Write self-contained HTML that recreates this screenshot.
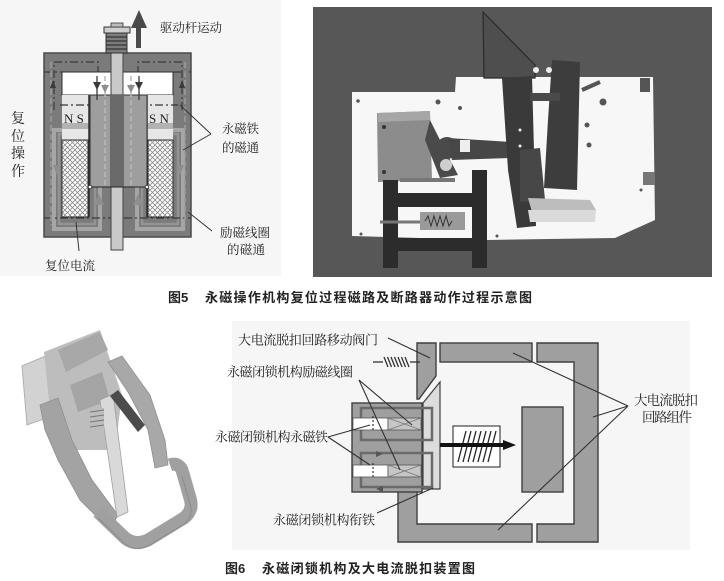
<!DOCTYPE html>
<html><head><meta charset="utf-8"><style>
html,body{margin:0;padding:0;background:#fff;}
svg{display:block;}
.ser{font-family:"Liberation Serif","Noto Serif CJK SC",serif;fill:#222;}
.cap{font-family:"Liberation Sans","Noto Sans CJK SC",sans-serif;fill:#222;font-weight:700;}
</style></head><body>
<svg width="724" height="581" viewBox="0 0 724 581" xmlns="http://www.w3.org/2000/svg">
<defs>
<pattern id="xh" width="5" height="5" patternUnits="userSpaceOnUse">
<rect width="5" height="5" fill="#fff"/>
<path d="M0,0L5,5M5,0L0,5" stroke="#8a8a8a" stroke-width="0.8"/>
</pattern>
</defs>
<rect width="724" height="581" fill="#fff"/>

<!-- ========== TOP LEFT DIAGRAM ========== -->
<rect x="0" y="0" width="281" height="276" fill="#f6f6f6"/>
<!-- body -->
<rect x="44" y="53" width="147" height="184" fill="#7b7b7b" stroke="#4a4a4a" stroke-width="1.5"/>
<!-- coil flux loops -->
<g fill="none" stroke="#a6a6a6" stroke-width="4">
<rect x="54" y="130" width="46" height="99"/>
<rect x="137" y="130" width="46" height="99"/>
</g>
<g fill="none" stroke="#939393" stroke-width="2.5">
<rect x="59" y="134" width="36" height="90"/>
<rect x="142" y="134" width="36" height="90"/>
</g>
<!-- top yoke dash-dot flux -->
<g fill="none" stroke="#3a3a3a" stroke-width="1.2" stroke-dasharray="8,3,2,3">
<polyline points="54,110 54,62 98,62 98,80"/>
<polyline points="182,110 182,62 138,62 138,80"/>
<line x1="44" y1="72" x2="62" y2="72"/>
<line x1="173" y1="72" x2="191" y2="72"/>
<line x1="44" y1="218" x2="191" y2="218"/>
</g>
<g fill="none" stroke="#9c9c9c" stroke-width="1.5" stroke-dasharray="6,3">
<line x1="51" y1="62" x2="51" y2="225"/>
<line x1="185" y1="62" x2="185" y2="225"/>
</g>
<!-- top cavity -->
<rect x="62" y="72" width="111" height="23" fill="#fff" stroke="#2e2e2e" stroke-width="1"/>
<!-- magnets -->
<rect x="62" y="95" width="28" height="45" fill="#e6e6e6"/>
<rect x="147" y="95" width="26" height="45" fill="#e6e6e6"/>
<rect x="62" y="123" width="28" height="6" fill="#b2b2b2"/>
<rect x="147" y="123" width="26" height="6" fill="#b2b2b2"/>
<g stroke="#333" stroke-width="1.3" stroke-dasharray="8,3,2,3">
<line x1="60" y1="105" x2="98" y2="105"/>
<line x1="139" y1="105" x2="178" y2="105"/>
</g>
<text x="64" y="123" class="ser" font-size="13">N S</text>
<text x="149" y="123" class="ser" font-size="13">S N</text>
<!-- coils -->
<rect x="62" y="140" width="26" height="77" fill="url(#xh)" stroke="#2e2e2e" stroke-width="1"/>
<rect x="148" y="140" width="25" height="77" fill="url(#xh)" stroke="#2e2e2e" stroke-width="1"/>
<line x1="89" y1="95" x2="89" y2="217" stroke="#2e2e2e" stroke-width="1.5"/>
<line x1="147" y1="95" x2="147" y2="217" stroke="#2e2e2e" stroke-width="1.5"/>
<!-- shaft -->
<rect x="111" y="53" width="12" height="197" fill="#c9c9c9" stroke="#444" stroke-width="1"/>
<!-- plunger -->
<rect x="90" y="95" width="57" height="92" fill="#9e9e9e" stroke="#333" stroke-width="1"/>
<rect x="110" y="95" width="14" height="92" fill="#6a6a6a"/>
<line x1="90" y1="187" x2="147" y2="187" stroke="#222" stroke-width="1"/>
<circle cx="90" cy="187" r="1.8" fill="#fff" stroke="#222" stroke-width="0.8"/>
<circle cx="147" cy="187" r="1.8" fill="#fff" stroke="#222" stroke-width="0.8"/>
<!-- vertical light dashed flux in plunger -->
<g stroke="#b8b8b8" stroke-width="1.5" stroke-dasharray="5,3">
<line x1="105" y1="76" x2="105" y2="185"/>
<line x1="131" y1="76" x2="131" y2="185"/>
</g>
<g stroke="#3a3a3a" stroke-width="1.3">
<line x1="97" y1="76" x2="97" y2="100"/>
<line x1="139" y1="76" x2="139" y2="100"/>
</g>
<g fill="#3a3a3a">
<polygon points="93,82 101,82 97,90"/>
<polygon points="135,82 143,82 139,90"/>
<polygon points="50,88 56,88 53,80"/>
<polygon points="179,88 185,88 182,80"/>
</g>
<g fill="#8e8e8e">
<polygon points="101,85 109,85 105,93"/>
<polygon points="127,85 135,85 131,93"/>
<polygon points="53,165 61,165 57,175"/>
<polygon points="176,165 184,165 180,175"/>
<polygon points="94,205 104,205 99,194"/>
<polygon points="133,205 143,205 138,194"/>
</g>
<!-- thread & cap -->
<rect x="106" y="33" width="21" height="20" fill="#7c7c7c" stroke="#333" stroke-width="1"/>
<g stroke="#333" stroke-width="1.2">
<line x1="106" y1="37" x2="127" y2="37"/><line x1="106" y1="41" x2="127" y2="41"/>
<line x1="106" y1="45" x2="127" y2="45"/><line x1="106" y1="49" x2="127" y2="49"/>
</g>
<rect x="104" y="27" width="26" height="6" fill="#cfcfcf" stroke="#333" stroke-width="1"/>
<rect x="111" y="23" width="12" height="4" fill="#bdbdbd" stroke="#333" stroke-width="0.8"/>
<!-- up arrow -->
<polygon points="136,48 136,28 131,28 139,10 147,28 141,28 141,48" fill="#4a4a4a"/>
<!-- labels -->
<text x="160" y="32" class="ser" font-size="12.5" textLength="62">驱动杆运动</text>
<text x="11" y="123" class="ser" font-size="14">复</text>
<text x="11" y="141" class="ser" font-size="14">位</text>
<text x="11" y="158" class="ser" font-size="14">操</text>
<text x="11" y="176" class="ser" font-size="14">作</text>
<text x="222" y="133" class="ser" font-size="12.5" textLength="37">永磁铁</text>
<text x="222" y="152" class="ser" font-size="12.5" textLength="37">的磁通</text>
<text x="220" y="237" class="ser" font-size="12.5" textLength="50">励磁线圈</text>
<text x="227" y="254" class="ser" font-size="12.5" textLength="38">的磁通</text>
<text x="45" y="270" class="ser" font-size="12.5" textLength="50">复位电流</text>
<g stroke="#333" stroke-width="1">
<line x1="180" y1="105" x2="211" y2="134"/>
<line x1="183" y1="150" x2="211" y2="134"/>
<line x1="188" y1="212" x2="212" y2="231"/>
<line x1="76" y1="222" x2="79" y2="251"/>
</g>

<!-- ========== TOP RIGHT PHOTO ========== -->
<rect x="313" y="7" width="399" height="270" fill="#575757"/>
<polygon points="352,92 455,92 456,77 653,77 655,220 615,238 487,240 352,236" fill="#f7f7f7"/>
<!-- details on plate -->
<g fill="#555">
<circle cx="358" cy="101" r="1.8"/><circle cx="438" cy="102" r="2.5"/><circle cx="460" cy="108" r="2"/>
<circle cx="603" cy="102" r="3.5"/><circle cx="587" cy="125" r="2.5"/><circle cx="589" cy="145" r="2.5"/>
<circle cx="641" cy="190" r="1.5"/><circle cx="361" cy="234" r="1.5"/><circle cx="497" cy="236" r="1.5"/>
</g>
<polygon points="640,78 650,78 650,92 640,92" fill="#555"/>
<polygon points="643,172 655,172 655,185 643,185" fill="#777"/>
<!-- left gray box -->
<polygon points="377,113 430,111 432,180 378,182" fill="#8c8c8c"/>
<polygon points="378,113 430,111 430,120 378,122" fill="#a6a6a6"/>
<circle cx="384" cy="127" r="2" fill="#333"/><circle cx="384" cy="172" r="2" fill="#333"/>
<polygon points="430,120 445,150 458,175 440,178 425,140" fill="#4a4a4a"/>
<circle cx="447" cy="148" r="11" fill="#4a4a4a"/>
<polygon points="448,138 510,142 510,158 452,160" fill="#474747"/>
<rect x="460" y="140" width="10" height="12" fill="#eee"/>
<circle cx="446" cy="165" r="6" fill="#cfcfcf"/>
<rect x="400" y="178" width="55" height="4" fill="#777"/>
<!-- black frame -->
<g fill="#2c2c2c">
<rect x="383" y="180" width="15" height="88"/>
<rect x="472" y="170" width="15" height="98"/>
<rect x="393" y="193" width="84" height="14"/>
<rect x="393" y="238" width="84" height="13"/>
</g>
<rect x="420" y="212" width="45" height="18" fill="#9a9a9a"/>
<path d="M425,221 l3,-5 l3,10 l3,-10 l3,10 l3,-10 l3,10 l3,-10 l3,10 l3,-5" stroke="#333" fill="none" stroke-width="1"/>
<line x1="380" y1="222" x2="420" y2="222" stroke="#777" stroke-width="3"/>
<!-- triangle plate -->
<polygon points="483,12 535,65 535,78 484,78" fill="#4e4e4e" stroke="#2a2a2a" stroke-width="1.2"/>
<!-- tall bars -->
<polygon points="502,78 532,76 536,226 517,228 508,170" fill="#3a3a3a"/>
<polygon points="520,150 540,148 545,200 520,202" fill="#474747"/>
<polygon points="552,60 580,62 577,190 544,188 548,120" fill="#3d3d3d"/>
<rect x="530" y="93" width="30" height="8" fill="#4a4a4a"/>
<line x1="582" y1="90" x2="600" y2="82" stroke="#555" stroke-width="4"/>
<circle cx="536" cy="70" r="3" fill="#eee"/><circle cx="549" cy="70" r="3" fill="#eee"/>
<polygon points="528,198 590,200 596,210 532,212" fill="#bdbdbd"/>
<polygon points="528,210 596,210 595,222 530,222" fill="#dadada"/>
<circle cx="520" cy="130" r="1.5" fill="#eee"/><circle cx="520" cy="146" r="1.5" fill="#eee"/>

<!-- ========== BOTTOM LEFT 3D RENDER ========== -->
<polygon points="22,366 100,333 104,398 27,425" fill="#d2d2d2" stroke="#b0b0b0" stroke-width="1"/>
<polygon points="44,352 100,330 122,395 115,450 70,450 50,410" fill="#bdbdbd"/>
<polygon points="58,350 100,332 108,350 66,372" fill="#a8a8a8"/>
<polygon points="70,385 102,372 110,400 78,412" fill="#a5a5a5"/>
<!-- left arm -->
<polygon points="40,405 58,398 72,440 92,480 118,515 110,530 80,500 58,460 45,430" fill="#a3a3a3" stroke="#8f8f8f" stroke-width="0.8"/>
<!-- right arm -->
<polygon points="108,362 122,356 150,395 165,440 168,465 155,468 148,430 128,392" fill="#a8a8a8" stroke="#909090" stroke-width="0.8"/>
<!-- handle -->
<path d="M98,512 L125,538 Q135,546 148,540 L184,518 Q194,510 190,498 L182,470 Q178,462 170,465" fill="none" stroke="#a0a0a0" stroke-width="13" stroke-linejoin="round"/>
<path d="M98,512 L125,538 Q135,546 148,540 L184,518 Q194,510 190,498 L182,470" fill="none" stroke="#8c8c8c" stroke-width="1" transform="translate(0,6)"/>
<!-- vertical light bar -->
<polygon points="100,400 113,394 128,512 117,517" fill="#d9d9d9" stroke="#a0a0a0" stroke-width="0.8"/>
<!-- dark link -->
<polygon points="110,396 118,390 145,425 138,432" fill="#4c4c4c"/>
<!-- spring -->
<rect x="90" y="408" width="14" height="22" fill="#bdbdbd"/>
<g stroke="#777" stroke-width="1"><line x1="90" y1="412" x2="104" y2="410"/><line x1="90" y1="417" x2="104" y2="415"/><line x1="90" y1="422" x2="104" y2="420"/><line x1="90" y1="427" x2="104" y2="425"/></g>

<!-- ========== BOTTOM RIGHT DIAGRAM ========== -->
<rect x="232" y="321" width="458" height="229" fill="#f6f6f6"/>
<g fill="#9f9f9f" stroke="#3f3f3f" stroke-width="1.4">
<rect x="440" y="343" width="92" height="19"/>
<path d="M537,343 H598 V542 H537 V524 H574 V362 H537 Z"/>
<path d="M398,489 H417 V524 H532 V542 H398 Z"/>
<rect x="522" y="407" width="41" height="85"/>
<polygon points="417,343 436,343 436,376 419,399 417,399"/>
<rect x="352" y="403" width="70" height="89"/>
</g>
<polygon points="423,403 440,382 440,489 423,489" fill="#dcdcdc" stroke="#3f3f3f" stroke-width="1.2"/>
<!-- chambers -->
<g fill="none" stroke="#6a6a6a" stroke-width="2.5">
<rect x="361" y="408" width="71" height="32"/>
<rect x="361" y="453" width="71" height="34"/>
</g>
<g fill="#fff" stroke="#555" stroke-width="0.8">
<rect x="353" y="418" width="35" height="12"/>
<rect x="353" y="465" width="35" height="12"/>
</g>
<g fill="#c6c6c6" stroke="#555" stroke-width="0.8">
<rect x="388" y="418" width="33" height="12"/>
<rect x="388" y="465" width="33" height="12"/>
</g>
<g stroke="#777" stroke-width="0.7">
<line x1="388" y1="418" x2="421" y2="430"/><line x1="388" y1="430" x2="421" y2="418"/>
<line x1="388" y1="465" x2="421" y2="477"/><line x1="388" y1="477" x2="421" y2="465"/>
</g>
<g stroke="#333" stroke-width="1.2" stroke-dasharray="2,2">
<line x1="373" y1="416" x2="373" y2="432"/>
<line x1="373" y1="463" x2="373" y2="479"/>
</g>
<polygon points="376,451 383,454 376,457" fill="#555"/>
<polygon points="383,486 376,489 383,492" fill="#555"/>
<!-- spring box & arrow -->
<rect x="453" y="426" width="47" height="41" fill="#fff" stroke="#444" stroke-width="1.2"/>
<g stroke="#222" stroke-width="1.3">
<line x1="458" y1="462" x2="466" y2="431"/><line x1="463" y1="462" x2="471" y2="431"/>
<line x1="468" y1="462" x2="476" y2="431"/><line x1="473" y1="462" x2="481" y2="431"/>
<line x1="478" y1="462" x2="486" y2="431"/><line x1="483" y1="462" x2="491" y2="431"/>
<line x1="488" y1="462" x2="496" y2="431"/>
</g>
<line x1="440" y1="445" x2="505" y2="445" stroke="#111" stroke-width="4"/>
<polygon points="503,440 516,445 503,450" fill="#111"/>
<!-- gate spring -->
<g stroke="#333" stroke-width="1.3">
<line x1="373" y1="362" x2="383" y2="362"/>
<line x1="410" y1="362" x2="420" y2="362"/>
<line x1="384" y1="357" x2="388" y2="367"/><line x1="387.5" y1="357" x2="391.5" y2="367"/>
<line x1="391" y1="357" x2="395" y2="367"/><line x1="394.5" y1="357" x2="398.5" y2="367"/>
<line x1="398" y1="357" x2="402" y2="367"/><line x1="401.5" y1="357" x2="405.5" y2="367"/>
<line x1="405" y1="357" x2="409" y2="367"/>
</g>
<!-- leader lines -->
<g stroke="#333" stroke-width="1.1" fill="none">
<line x1="388" y1="338" x2="430" y2="358"/>
<line x1="359" y1="380" x2="412" y2="425"/>
<line x1="359" y1="380" x2="400" y2="470"/>
<line x1="328" y1="437" x2="370" y2="425"/>
<line x1="328" y1="437" x2="370" y2="465"/>
<line x1="377" y1="513" x2="433" y2="488"/>
<line x1="628" y1="406" x2="513" y2="353"/>
<line x1="628" y1="406" x2="593" y2="417"/>
<line x1="628" y1="406" x2="498" y2="530"/>
</g>
<text x="238" y="344.5" class="ser" font-size="13" textLength="140">大电流脱扣回路移动阀门</text>
<text x="227" y="376.5" class="ser" font-size="13" textLength="126">永磁闭锁机构励磁线圈</text>
<text x="215" y="441.5" class="ser" font-size="13" textLength="113">永磁闭锁机构永磁铁</text>
<text x="273" y="524.5" class="ser" font-size="13" textLength="102">永磁闭锁机构衔铁</text>
<text x="634" y="405" class="ser" font-size="13.5" textLength="64">大电流脱扣</text>
<text x="642" y="422" class="ser" font-size="13.5" textLength="50">回路组件</text>

<!-- ========== CAPTIONS ========== -->
<text x="168" y="302" class="cap" font-size="13">图5</text>
<text x="205" y="302" class="cap" font-size="13" textLength="327">永磁操作机构复位过程磁路及断路器动作过程示意图</text>
<text x="225" y="573" class="cap" font-size="13">图6</text>
<text x="262" y="573" class="cap" font-size="13" textLength="213">永磁闭锁机构及大电流脱扣装置图</text>
</svg>
</body></html>
